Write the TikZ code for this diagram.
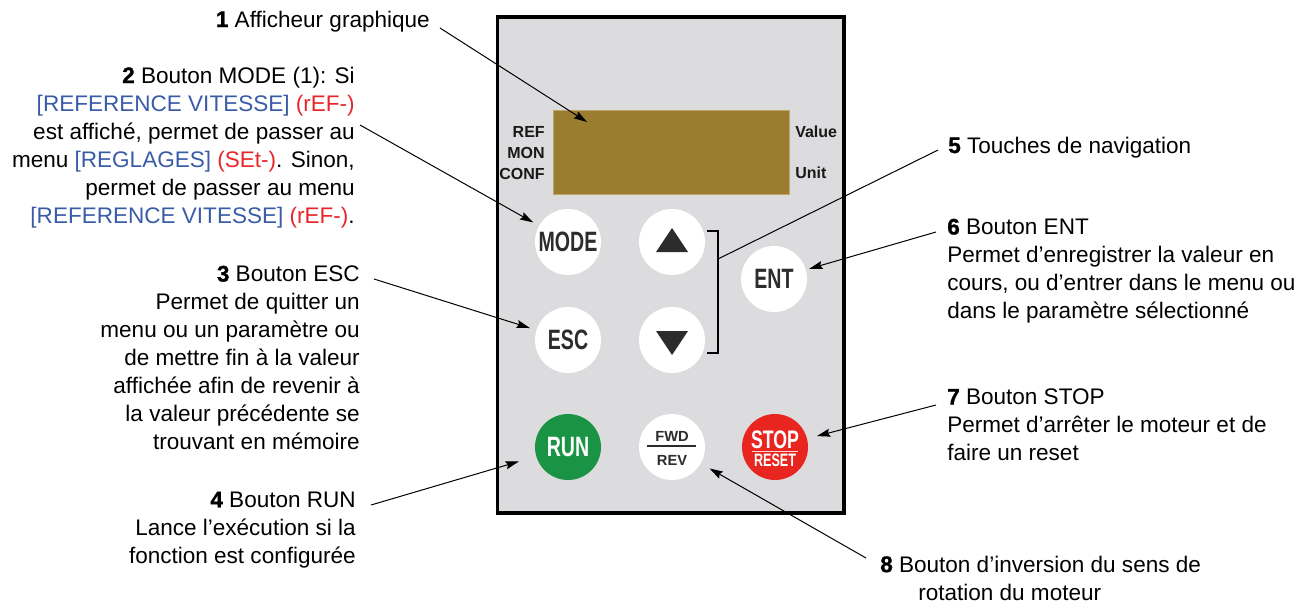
\documentclass[tikz,border=0pt]{standalone}
\usepackage{fontspec}
\setmainfont{Liberation Sans}
\newfontfamily\btnfont[FakeStretch=0.7]{Liberation Sans}
\newfontfamily\numfont[BoldFeatures={FakeBold=1.2}]{Liberation Sans}
\usetikzlibrary{arrows.meta}
\definecolor{panelgray}{RGB}{220,219,221}
\definecolor{dispcol}{RGB}{154,125,47}
\definecolor{dispedge}{RGB}{190,165,105}
\definecolor{keytext}{RGB}{42,44,46}
\definecolor{runcol}{RGB}{26,148,68}
\definecolor{stopcol}{RGB}{232,37,31}
\definecolor{refblue}{RGB}{58,91,168}
\definecolor{refred}{RGB}{232,38,42}
\newcommand{\blu}[1]{\textcolor{refblue}{#1}}
\newcommand{\rd}[1]{\textcolor{refred}{#1}}
\newcommand{\num}[1]{{\numfont\bfseries #1}}
\tikzset{
  desc/.style={inner sep=0pt, font=\fontsize{16.9}{21}\selectfont},
  key/.style={circle, fill=white, minimum size=49.5pt, inner sep=0pt, text=keytext, font=\btnfont\bfseries\fontsize{21}{21}\selectfont},
  panellbl/.style={inner sep=0pt, font=\bfseries\fontsize{12}{12}\selectfont, text=black!90},
  arr/.style={line width=0.75pt, -{Stealth[length=10pt,width=6pt,inset=1.5pt]}},
  lead/.style={line width=0.75pt}
}
\begin{document}
\begin{tikzpicture}[x=0.75pt,y=-0.75pt]
\useasboundingbox (0,0) rectangle (1308,603);
% panel
\node[draw=black, line width=2.5pt, fill=panelgray, minimum width=260pt, minimum height=372pt, inner sep=0pt] (panel) at (670.5,265) {};
\node[fill=dispcol, draw=dispedge, line width=0.6pt, minimum width=177pt, minimum height=63pt, inner sep=0pt] (disp) at (671,152) {};
\node[panellbl, anchor=base east] (lref) at (545,137) {REF};
\node[panellbl, anchor=base east] (lmon) at (545,158) {MON};
\node[panellbl, anchor=base east] (lconf) at (545,179) {CONF};
\node[panellbl, anchor=base west] (lval) at (795,137) {Value};
\node[panellbl, anchor=base west] (lunit) at (795,178) {Unit};
% keys
\node[key] (mode) at (568,242) {MODE};
\node[key] (up) at (672,242) {};
\node[key] (ent) at (774,279) {ENT};
\node[key] (esc) at (568,340) {ESC};
\node[key] (down) at (672,340) {};
\node[key, fill=runcol, text=white, font=\btnfont\bfseries\fontsize{21}{21}\selectfont] (run) at (568,447) {RUN};
\node[key] (fwd) at (672,447) {};
\node[key, fill=stopcol] (stop) at (775,447) {};
\fill[keytext] (656,252) -- (688,252) -- (672,228) -- cycle;
\fill[keytext] (656,331) -- (688,331) -- (672,355) -- cycle;
\node[inner sep=0pt, anchor=base, text=keytext, font=\bfseries\fontsize{11}{11}\selectfont] (fwdt) at (672,441) {FWD};
\node[inner sep=0pt, anchor=base, text=keytext, font=\bfseries\fontsize{11}{11}\selectfont] (revt) at (672,465) {REV};
\draw[keytext, line width=1pt] (647,446) -- (696,446);
\node[inner sep=0pt, anchor=base, text=white, font=\btnfont\bfseries\fontsize{19}{19}\selectfont] (stopt) at (775,448) {STOP};
\node[inner sep=0pt, anchor=base, text=white, font=\btnfont\bfseries\fontsize{13.5}{13.5}\selectfont] (resett) at (775,466) {RESET};
\draw[white!80!stopcol, line width=0.4pt] (752,451) -- (798,451);
% bracket
\draw[line width=1.1pt] (707,231) -- (718,231) -- (718,353) -- (707,353);
\coordinate (brk) at (718,259);
% texts
\node[desc, anchor=base east] (t1) at (430,27) {\num{1} Afficheur graphique};
\node[desc, anchor=north east, align=right] (t2) at (355,66.5) {\num{2} Bouton MODE (1): Si\\
\blu{[REFERENCE VITESSE]} \rd{(rEF-)}\\
est affiché, permet de passer au\\
menu \blu{[REGLAGES]} \rd{(SEt-)}. Sinon,\\
permet de passer au menu\\
\blu{[REFERENCE VITESSE]} \rd{(rEF-)}.};
\node[desc, anchor=north east, align=right] (t3) at (360,265.5) {\num{3} Bouton ESC\\
Permet de quitter un\\
menu ou un paramètre ou\\
de mettre fin à la valeur\\
affichée afin de revenir à\\
la valeur précédente se\\
trouvant en mémoire};
\node[desc, anchor=north east, align=right] (t4) at (356,491.5) {\num{4} Bouton RUN\\
Lance l’exécution si la\\
fonction est configurée};
\node[desc, anchor=base west] (t5) at (948,153) {\num{5} Touches de navigation};
\node[desc, anchor=north west, align=left] (t6) at (947,218.5) {\num{6} Bouton ENT\\
Permet d’enregistrer la valeur en\\
cours, ou d’entrer dans le menu ou\\
dans le paramètre sélectionné};
\node[desc, anchor=north west, align=left] (t7) at (947,388.5) {\num{7} Bouton STOP\\
Permet d’arrêter le moteur et de\\
faire un reset};
\node[desc, anchor=north west, align=left] (t8) at (880,555.5) {\num{8} Bouton d’inversion du sens de\\
\hspace*{28.5pt}rotation du moteur};
% connector ends
\coordinate (c1) at (440,28);
\coordinate (d1) at (587,122);
\coordinate (c2) at (360,125);
\coordinate (c3) at (374,279);
\coordinate (c4) at (371,505);
\coordinate (c5) at (938,150);
\coordinate (c6) at (936,232);
\coordinate (c7) at (936,405);
\coordinate (c8) at (866,558);
\draw[arr] (c1) -- (d1);
\draw[arr, shorten >=5pt] (c2) -- (mode);
\draw[arr, shorten >=5pt] (c3) -- (esc);
\draw[arr, shorten >=13.5pt] (c4) -- (run);
\draw[lead] (brk) -- (c5);
\draw[arr, shorten >=2.6pt] (c6) -- (ent);
\draw[arr, shorten >=7.5pt] (c7) -- (stop);
\draw[arr, shorten >=7.5pt] (c8) -- (fwd);
\end{tikzpicture}
\end{document}
